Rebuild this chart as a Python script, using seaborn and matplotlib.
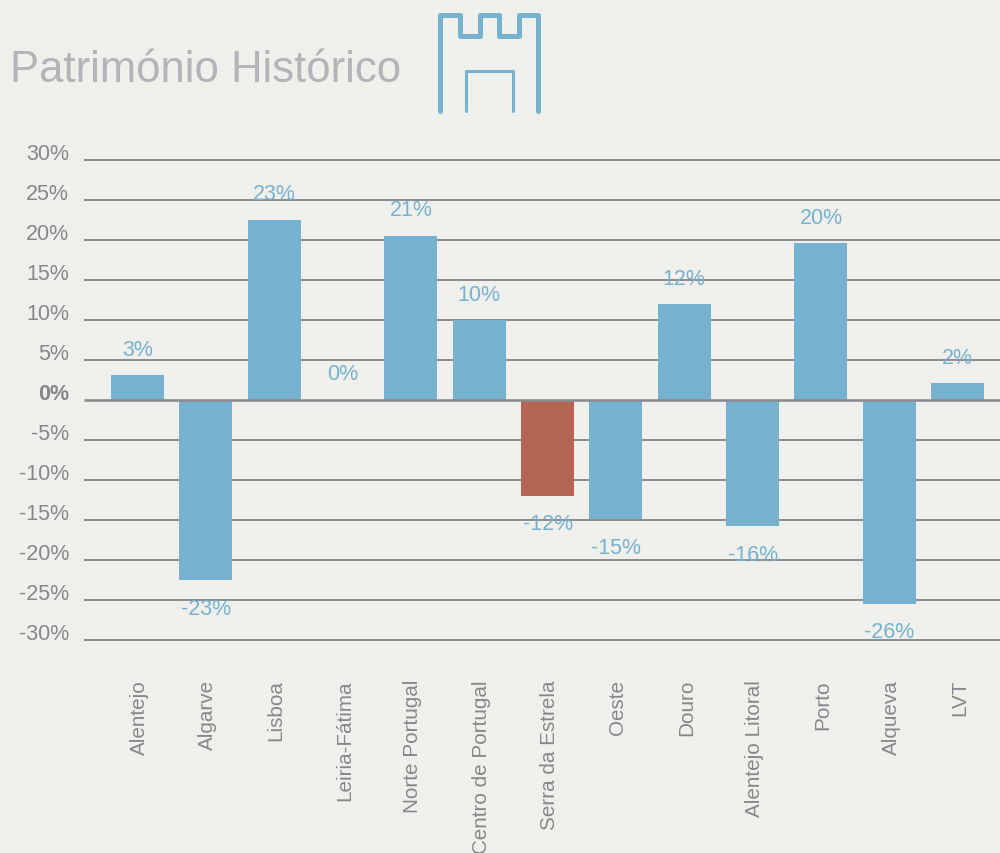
import matplotlib
matplotlib.use("Agg")
import matplotlib.pyplot as plt
import matplotlib.transforms as mtrans
import seaborn as sns

# dados
regioes = ["Alentejo", "Algarve", "Lisboa", "Leiria-Fátima", "Norte Portugal",
           "Centro de Portugal", "Serra da Estrela", "Oeste", "Douro",
           "Alentejo Litoral", "Porto", "Alqueva", "LVT"]
valores = [3.1, -22.6, 22.5, 0, 20.5, 9.9, -12, -14.9, 11.9, -15.8, 19.6, -25.5, 2.1]
rotulos = ["3%", "-23%", "23%", "0%", "21%", "10%", "-12%", "-15%", "12%", "-16%", "20%", "-26%", "2%"]
destaque = "Serra da Estrela"
ticks_y = [30, 25, 20, 15, 10, 5, 0, -5, -10, -15, -20, -25, -30]

fundo = "#EFF0EB"
azul = "#76B2D0"
vermelho = "#B56553"
cinza = "#87878B"
linha = "#8C8C90"

sns.set_theme(style="white")
plt.rcParams["font.family"] = ["Liberation Sans", "DejaVu Sans"]

fig = plt.figure(figsize=(10, 8.54), dpi=100, facecolor=fundo)
ax = fig.add_axes([0.084, 213.5 / 854, 0.916, 480 / 854], facecolor=fundo)

cores = [vermelho if r == destaque else azul for r in regioes]
sns.barplot(x=regioes, y=valores, hue=regioes, palette=cores, legend=False,
            width=0.776, saturation=1, linewidth=0, ax=ax, zorder=2)

ax.set_xlim(-0.783, 12.62)
ax.set_ylim(-30, 30)

# linhas horizontais
for t in ticks_y:
    ax.axhline(t, color=linha, lw=1.9 if t == 0 else 1.4, solid_capstyle="butt",
               zorder=3 if t == 0 else 1, clip_on=False)

# rotulos dos valores
for i, (v, r) in enumerate(zip(valores, rotulos)):
    dy = 25.5 if v >= 0 else -28.5
    ax.annotate(r, (i, v), xytext=(0, dy), textcoords="offset pixels", ha="center",
                va="center", color=azul, fontsize=15.5, zorder=4)

ax.set_yticks(ticks_y)
ax.set_yticklabels([f"{t}%" for t in ticks_y])
ax.tick_params(axis="y", length=0, pad=10.8, labelsize=15.5, labelcolor=cinza)
ax.tick_params(axis="x", length=0, pad=28.5, labelsize=14.9, labelcolor=cinza, rotation=90)
sobe = mtrans.ScaledTranslation(0, 8.5 / 100, fig.dpi_scale_trans)
for lab in ax.get_yticklabels():
    lab.set_transform(lab.get_transform() + sobe)
    if lab.get_text() == "0%":
        lab.set_fontweight("bold")
direita = mtrans.ScaledTranslation(2 / 100, 0, fig.dpi_scale_trans)
for lab in ax.get_xticklabels():
    lab.set_transform(lab.get_transform() + direita)
ax.set_xlabel("")
ax.set_ylabel("")
sns.despine(ax=ax, left=True, bottom=True, top=True, right=True)

# titulo
fig.text(0.0095, 1 - 70 / 854, "Património Histórico", color="#B3B3B8", fontsize=31.4, va="center", ha="left")

# icone do castelo (em pixeis da figura)
ic = fig.add_axes([0, 0, 1, 1], facecolor="none")
ic.set_xlim(0, 1000)
ic.set_ylim(854, 0)
ic.axis("off")
ic.plot([440, 440, 460, 460, 480, 480, 499, 499, 519, 519, 538, 538, 538],
        [112, 16, 16, 37, 37, 16, 16, 37, 37, 16, 16, 16, 112],
        color=azul, lw=3.6, solid_capstyle="round", solid_joinstyle="round")
ic.plot([466, 466, 513, 513], [112, 72, 72, 112], color=azul, lw=2.2, solid_capstyle="round")

fig.savefig("out.png", dpi=100, facecolor=fundo)
